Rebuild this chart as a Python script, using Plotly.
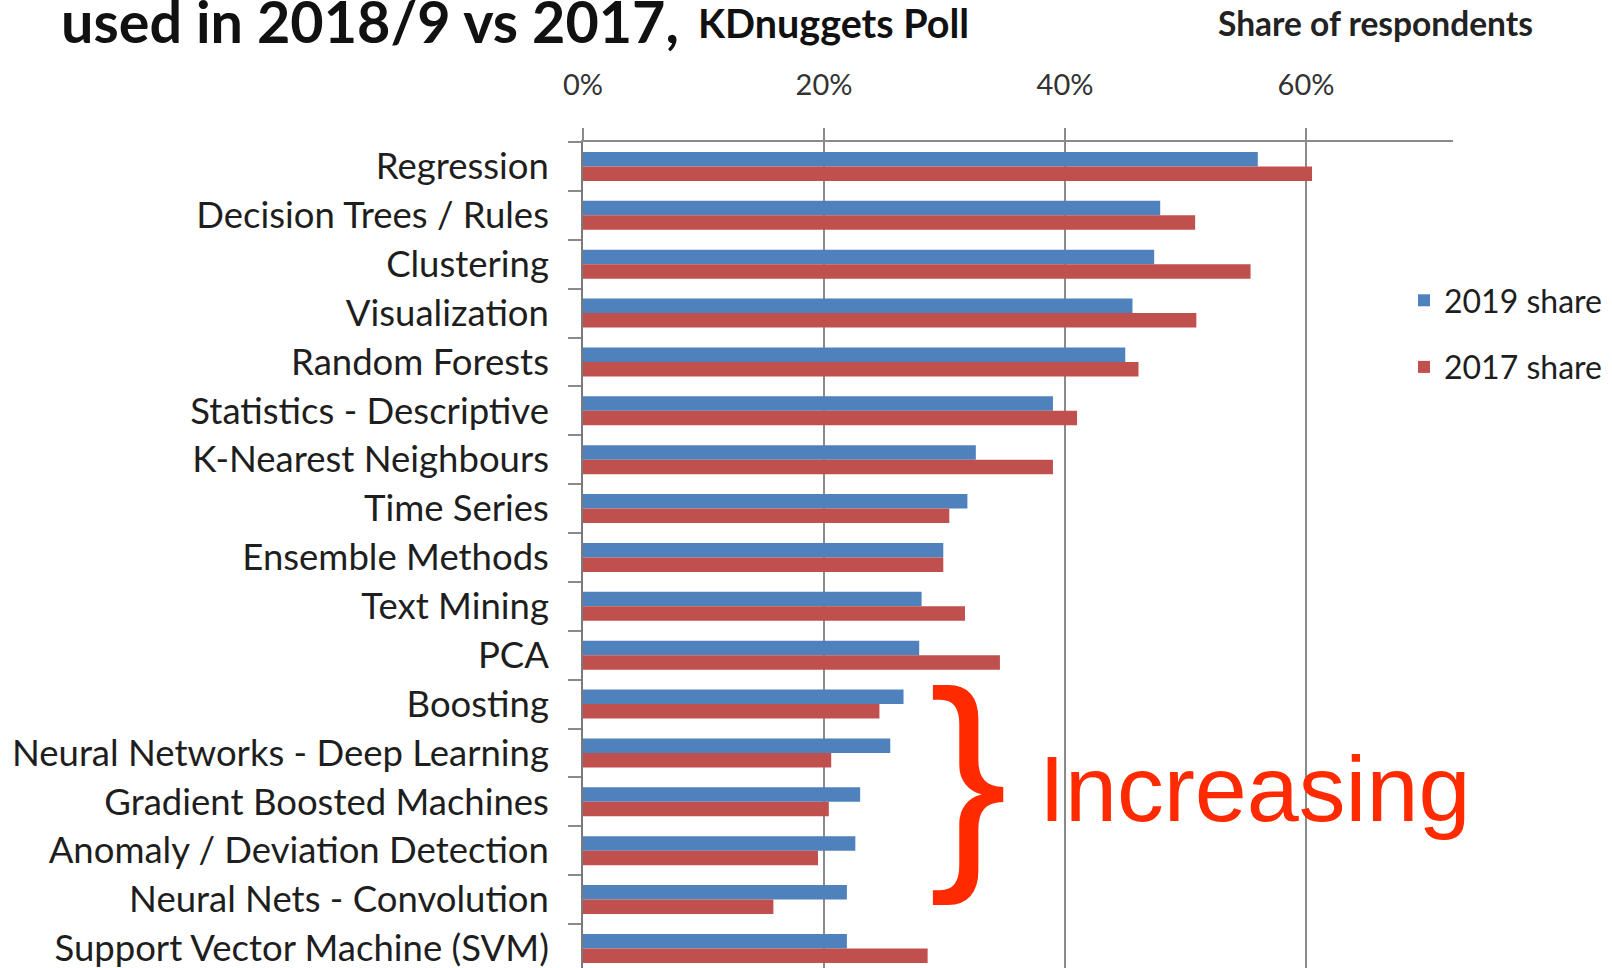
import plotly.graph_objects as go

# Machine-learning methods, top to bottom
methods = [
    "Regression",
    "Decision Trees / Rules",
    "Clustering",
    "Visualization",
    "Random Forests",
    "Statistics - Descriptive",
    "K-Nearest Neighbours",
    "Time Series",
    "Ensemble Methods",
    "Text Mining",
    "PCA",
    "Boosting",
    "Neural Networks - Deep Learning",
    "Gradient Boosted Machines",
    "Anomaly / Deviation Detection",
    "Neural Nets - Convolution",
    "Support Vector Machine (SVM)",
]

# Share of respondents (%)
share_2019 = [56.0, 47.9, 47.4, 45.6, 45.0, 39.0, 32.6, 31.9, 29.9, 28.1, 27.9,
              26.6, 25.5, 23.0, 22.6, 21.9, 21.9]
share_2017 = [60.5, 50.8, 55.4, 50.9, 46.1, 41.0, 39.0, 30.4, 29.9, 31.7, 34.6,
              24.6, 20.6, 20.4, 19.5, 15.8, 28.6]

x_ticks = [0, 20, 40, 60]
x_tick_text = ["0%", "20%", "40%", "60%"]

BLUE = "#4F81BD"
RED = "#C0504D"
GRID = "#8a8a8a"
ACCENT = "#FF2A00"

W, H = 1612, 968
L, R, T, B = 583, 159, 142, 0
plot_w = W - L - R
plot_h = H - T - B
px_per_pct = 12.05
band_px = 48.875


def px_x(x):
    return (x - L) / plot_w


def px_y(y):
    return (H - B - y) / plot_h


fig = go.Figure()
fig.add_trace(go.Bar(
    y=methods, x=share_2019, orientation="h", name="2019 share",
    marker=dict(color=BLUE, line=dict(width=0)), legendgroup="a",
))
fig.add_trace(go.Bar(
    y=methods, x=share_2017, orientation="h", name="2017 share",
    marker=dict(color=RED, line=dict(width=0)), legendgroup="b",
))

visible_bands = plot_h / band_px

fig.update_layout(
    width=W, height=H,
    margin=dict(l=L, r=R, t=T, b=B, pad=0),
    paper_bgcolor="white", plot_bgcolor="white",
    barmode="group", bargap=0.407, bargroupgap=0.0,
    font=dict(family="Lato, sans-serif", color="#1e1e1e"),
    showlegend=True,
    legend=dict(
        x=px_x(1404), y=px_y(273), xanchor="left", yanchor="top",
        font=dict(size=32, family="Lato, sans-serif", color="#1e1e1e"),
        tracegroupgap=22, bgcolor="rgba(0,0,0,0)", itemclick=False,
    ),
    xaxis=dict(
        side="top", range=[0, plot_w / px_per_pct],
        tickvals=x_ticks, ticktext=x_tick_text,
        tickfont=dict(size=29, family="Lato, sans-serif", color="#333333"),
        ticks="outside", ticklen=12, tickcolor=GRID, tickwidth=1.5,
        ticklabelstandoff=22,
        showgrid=True, gridcolor=GRID, gridwidth=1.5,
        showline=True, linecolor=GRID, linewidth=1.5,
        zeroline=False, fixedrange=True,
    ),
    yaxis=dict(
        type="category", categoryorder="array", categoryarray=methods,
        range=[-0.5 + visible_bands, -0.5], autorange=False,
        tickson="boundaries", ticks="outside", ticklen=13,
        tickcolor=GRID, tickwidth=1.5, ticklabelstandoff=25,
        tickfont=dict(size=36.5, family="Lato, sans-serif", color="#1e1e1e"),
        showline=True, linecolor="#7a7a7a", linewidth=1.5,
        showgrid=False, zeroline=False, fixedrange=True,
    ),
)

annotations = [
    dict(text="<b>used in 2018/9 vs 2017,</b>", x=px_x(60), y=px_y(20),
         xanchor="left", yanchor="middle",
         font=dict(size=57.5, family="Lato, sans-serif", color="#111111")),
    dict(text="<b>KDnuggets Poll</b>", x=px_x(697), y=px_y(22),
         xanchor="left", yanchor="middle",
         font=dict(size=39.5, family="Lato, sans-serif", color="#111111")),
    dict(text="<b>Share of respondents</b>", x=px_x(1217), y=px_y(23),
         xanchor="left", yanchor="middle",
         font=dict(size=33.5, family="Lato, sans-serif", color="#222222")),
    dict(text="}", x=px_x(968), y=px_y(774),
         xanchor="center", yanchor="middle",
         font=dict(size=235, family="Liberation Sans, Arial, sans-serif", color=ACCENT)),
    dict(text="Increasing", x=px_x(1038), y=px_y(788),
         xanchor="left", yanchor="middle",
         font=dict(size=93.5, family="Liberation Sans, Arial, sans-serif", color=ACCENT)),
]
for a in annotations:
    a.update(xref="paper", yref="paper", showarrow=False, borderpad=0)
fig.update_layout(annotations=annotations)

fig.write_html("out.html")
